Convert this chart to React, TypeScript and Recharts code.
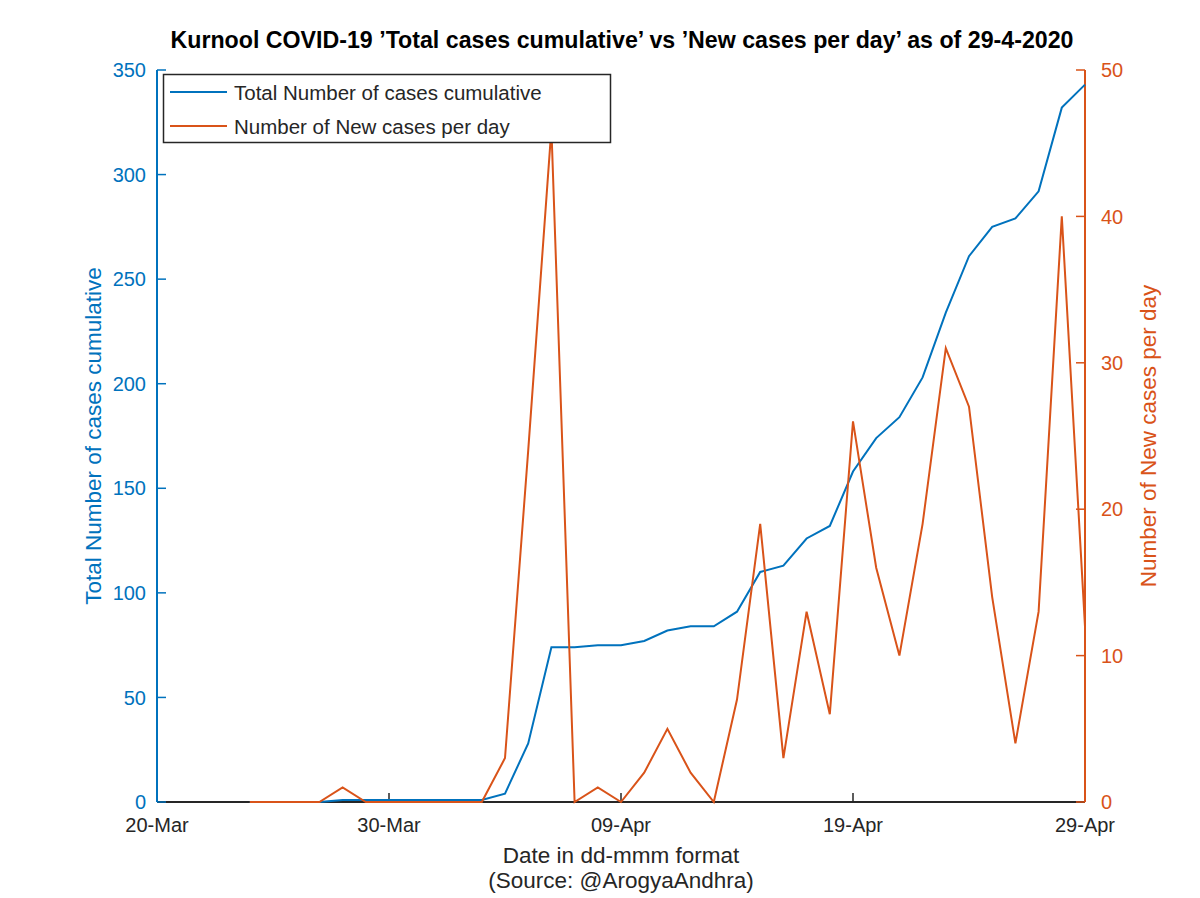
import { LineChart, Line, XAxis, YAxis } from "recharts";

const FONT = "'Liberation Sans', Arial, Helvetica, sans-serif";
const BLUE = "#0072BD";
const ORANGE = "#D95319";
const DARK = "#262626";

const dates = [
  "20-Mar", "21-Mar", "22-Mar", "23-Mar", "24-Mar", "25-Mar", "26-Mar", "27-Mar",
  "28-Mar", "29-Mar", "30-Mar", "31-Mar", "01-Apr", "02-Apr", "03-Apr", "04-Apr",
  "05-Apr", "06-Apr", "07-Apr", "08-Apr", "09-Apr", "10-Apr", "11-Apr", "12-Apr",
  "13-Apr", "14-Apr", "15-Apr", "16-Apr", "17-Apr", "18-Apr", "19-Apr", "20-Apr",
  "21-Apr", "22-Apr", "23-Apr", "24-Apr", "25-Apr", "26-Apr", "27-Apr", "28-Apr",
  "29-Apr",
];

// cumulative cases (no data before 24-Mar)
const totalCases = [
  null, null, null, null, 0, 0, 0, 0, 1, 1, 1, 1,
  1, 1, 1, 4, 28, 74, 74, 75, 75, 77, 82, 84, 84, 91, 110, 113, 126, 132,
  158, 174, 184, 203, 234, 261, 275, 279, 292, 332, 343,
];

// new cases per day
const newCases = [
  null, null, null, null, 0, 0, 0, 0, 1, 0, 0, 0,
  0, 0, 0, 3, 24, 46, 0, 1, 0, 2, 5, 2, 0, 7, 19, 3, 13, 6,
  26, 16, 10, 19, 31, 27, 14, 4, 13, 40, 12,
];

const xTicks = ["20-Mar", "30-Mar", "09-Apr", "19-Apr", "29-Apr"];
const leftTicks = [0, 50, 100, 150, 200, 250, 300, 350];
const rightTicks = [0, 10, 20, 30, 40, 50];

const totalName = "Total Number of cases cumulative";
const newName = "Number of New cases per day";

const data = dates.map((d, i) => ({
  date: d,
  total: totalCases[i],
  daily: newCases[i],
}));

function LeftLabel(props: any) {
  const vb = props.viewBox || { y: 70, height: 732 };
  const cy = vb.y + vb.height / 2;
  return (
    <text
      x={93}
      y={cy}
      transform={`rotate(-90, 93, ${cy})`}
      textAnchor="middle"
      dominantBaseline="central"
      fill={BLUE}
      fontSize={22.5}
      fontFamily={FONT}
    >
      {totalName}
    </text>
  );
}

function RightLabel(props: any) {
  const vb = props.viewBox || { y: 70, height: 732 };
  const cy = vb.y + vb.height / 2;
  return (
    <text
      x={1148}
      y={cy}
      transform={`rotate(-90, 1148, ${cy})`}
      textAnchor="middle"
      dominantBaseline="central"
      fill={ORANGE}
      fontSize={22.5}
      fontFamily={FONT}
    >
      {newName}
    </text>
  );
}

function BottomLabel() {
  return (
    <text textAnchor="middle" fill={DARK} fontSize={22.5} fontFamily={FONT}>
      <tspan x={621} y={863}>Date in dd-mmm format</tspan>
      <tspan x={621} y={888}>(Source: @ArogyaAndhra)</tspan>
    </text>
  );
}

export default function App() {
  return (
    <div style={{ position: "absolute", left: 0, top: 0, width: 1200, height: 898, background: "#fff" }}>
      <LineChart
        width={1200}
        height={898}
        data={data}
        margin={{ top: 70, right: 0, bottom: 0, left: 0 }}
      >
        <XAxis
          xAxisId="t"
          orientation="top"
          dataKey="date"
          height={0}
          ticks={xTicks}
          interval={0}
          tick={false}
          tickSize={-9}
          axisLine={{ stroke: DARK, strokeWidth: 1.5 }}
          tickLine={{ stroke: DARK, strokeWidth: 1.5 }}
        />
        <XAxis
          xAxisId="b"
          dataKey="date"
          height={96}
          ticks={xTicks}
          interval={0}
          tickSize={-9}
          tickMargin={25}
          tick={{ fill: DARK, fontSize: 20, fontFamily: FONT }}
          axisLine={{ stroke: DARK, strokeWidth: 2 }}
          tickLine={{ stroke: DARK, strokeWidth: 1.5 }}
          label={<BottomLabel />}
        />
        <YAxis
          yAxisId="left"
          width={157}
          domain={[0, 350]}
          ticks={leftTicks}
          interval={0}
          tickSize={-9}
          tickMargin={20}
          tick={{ fill: BLUE, fontSize: 20, fontFamily: FONT }}
          axisLine={{ stroke: BLUE, strokeWidth: 2 }}
          tickLine={{ stroke: BLUE, strokeWidth: 1.5 }}
          label={<LeftLabel />}
        />
        <YAxis
          yAxisId="right"
          orientation="right"
          width={115}
          domain={[0, 50]}
          ticks={rightTicks}
          interval={0}
          tickSize={-9}
          tickMargin={25}
          tick={{ fill: ORANGE, fontSize: 20, fontFamily: FONT }}
          axisLine={{ stroke: ORANGE, strokeWidth: 2 }}
          tickLine={{ stroke: ORANGE, strokeWidth: 1.5 }}
          label={<RightLabel />}
        />
        <Line
          xAxisId="b"
          yAxisId="left"
          type="linear"
          dataKey="total"
          name={totalName}
          stroke={BLUE}
          strokeWidth={2}
          dot={false}
          zIndex={600}
          isAnimationActive={false}
        />
        <Line
          xAxisId="b"
          yAxisId="right"
          type="linear"
          dataKey="daily"
          name={newName}
          stroke={ORANGE}
          strokeWidth={2}
          dot={false}
          zIndex={610}
          isAnimationActive={false}
        />
      </LineChart>
      <svg
        width={1200}
        height={150}
        style={{ position: "absolute", left: 0, top: 0, pointerEvents: "none" }}
      >
        <text
          x={622}
          y={48}
          textAnchor="middle"
          fontSize={23.2}
          fontWeight="bold"
          fill="#000"
          fontFamily={FONT}
        >
          Kurnool COVID-19 ’Total cases cumulative’ vs ’New cases per day’ as of 29-4-2020
        </text>
        <rect x={163.5} y={74.5} width={447} height={68} fill="#fff" stroke={DARK} strokeWidth={1.5} />
        <line x1={170} y1={92} x2={227} y2={92} stroke={BLUE} strokeWidth={2} />
        <line x1={170} y1={126} x2={227} y2={126} stroke={ORANGE} strokeWidth={2} />
        <text x={234} y={99.5} fontSize={20.5} fill={DARK} fontFamily={FONT}>
          {totalName}
        </text>
        <text x={234} y={133.5} fontSize={20.5} fill={DARK} fontFamily={FONT}>
          {newName}
        </text>
      </svg>
    </div>
  );
}
